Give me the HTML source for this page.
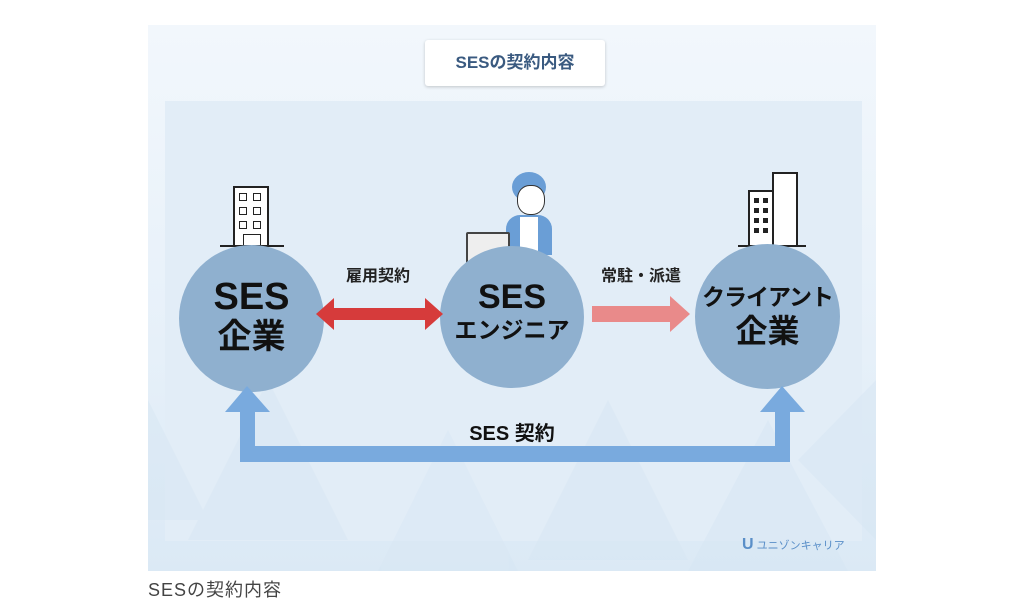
<!DOCTYPE html>
<html><head><meta charset="utf-8"><style>
body{margin:0;width:1024px;height:612px;background:#fff;position:relative;overflow:hidden;font-family:"Liberation Sans","Noto Sans CJK JP",sans-serif}
.a{position:absolute}
.c{position:absolute;border-radius:50%;background:#8fb0cf;text-align:center;font-weight:bold;color:#111;white-space:nowrap}
.w{position:absolute;width:6px;height:6px;border:1.5px solid #222;background:#fff}
.b{position:absolute;width:5px;height:5px;background:#222}
</style></head><body>
<div class="a" style="left:148px;top:25px;width:728px;height:546px;background:linear-gradient(180deg,#f2f7fc 0%,#e6f0f9 60%,#dbe9f5 100%)"></div>
<div class="a" style="left:165px;top:101px;width:697px;height:440px;background:#e2edf7"></div>
<svg class="a" style="left:148px;top:340px" width="728" height="231">
<g fill="#d6e6f3" opacity=".45">
<polygon points="0,60 60,180 -60,180"/><polygon points="120,40 200,200 40,200"/><polygon points="300,90 370,231 230,231"/><polygon points="460,60 540,220 380,220"/><polygon points="620,80 700,231 540,231"/><polygon points="728,40 728,200 650,120"/>
</g></svg>
<div class="a" style="left:425px;top:40px;width:180px;height:46px;background:#fff;border-radius:3px;box-shadow:0 1px 3px rgba(0,0,0,.2);text-align:center;line-height:46px;font-size:17px;font-weight:bold;color:#3a5a80">SESの契約内容</div>
<!-- buildings -->
<div class="a" style="left:233px;top:186px;width:36px;height:60px;border:2px solid #222;border-bottom:none;background:#fff;box-sizing:border-box"></div>
<div class="w" style="left:239px;top:193px"></div><div class="w" style="left:253px;top:193px"></div>
<div class="w" style="left:239px;top:207px"></div><div class="w" style="left:253px;top:207px"></div>
<div class="w" style="left:239px;top:221px"></div><div class="w" style="left:253px;top:221px"></div>
<div class="a" style="left:243px;top:234px;width:16px;height:12px;border:1.5px solid #222;border-bottom:none"></div>
<div class="a" style="left:220px;top:245px;width:64px;height:2px;background:#222"></div>
<div class="a" style="left:748px;top:190px;width:36px;height:57px;border:2px solid #222;border-bottom:none;background:#fff;box-sizing:border-box"></div>
<div class="a" style="left:772px;top:172px;width:26px;height:75px;border:2px solid #222;border-bottom:none;background:#fff;box-sizing:border-box"></div>
<div class="b" style="left:754px;top:198px"></div><div class="b" style="left:763px;top:198px"></div>
<div class="b" style="left:754px;top:208px"></div><div class="b" style="left:763px;top:208px"></div>
<div class="b" style="left:754px;top:218px"></div><div class="b" style="left:763px;top:218px"></div>
<div class="b" style="left:754px;top:228px"></div><div class="b" style="left:763px;top:228px"></div>
<div class="a" style="left:738px;top:245px;width:68px;height:2px;background:#222"></div>
<!-- person -->
<div class="a" style="left:512px;top:172px;width:34px;height:30px;border-radius:50%;background:#6a9ed6"></div>
<div class="a" style="left:517px;top:185px;width:26px;height:28px;border-radius:45%;background:#fff;border:1px solid #333"></div>
<div class="a" style="left:506px;top:215px;width:46px;height:40px;border-radius:14px 14px 0 0;background:#6a9ed6"></div>
<div class="a" style="left:520px;top:217px;width:18px;height:38px;background:#fff"></div>
<div class="a" style="left:466px;top:232px;width:40px;height:28px;background:#eee;border:2px solid #444;border-radius:2px"></div>
<div class="c" style="left:179px;top:245px;width:145px;height:147px"><div style="margin-top:32px;font-size:38px;line-height:40px">SES</div><div style="font-size:34px;line-height:40px">企業</div></div>
<div class="c" style="left:440px;top:246px;width:144px;height:142px"><div style="margin-top:32px;font-size:34px;line-height:38px">SES</div><div style="font-size:23px;line-height:28px">エンジニア</div></div>
<div class="c" style="left:695px;top:244px;width:145px;height:145px"><div style="margin-top:38px;font-size:23px;line-height:30px;letter-spacing:-1px">クライアント</div><div style="font-size:32px;line-height:38px">企業</div></div>
<div class="a" style="left:330px;top:262px;width:96px;text-align:center;font-size:16px;font-weight:bold;color:#222">雇用契約</div>
<div class="a" style="left:588px;top:262px;width:106px;text-align:center;font-size:16px;font-weight:bold;color:#222">常駐・派遣</div>
<svg class="a" style="left:0;top:0" width="1024" height="612">
<polygon points="316,314 334,298 334,308 425,308 425,298 443,314 425,330 425,320 334,320 334,330" fill="#d63b3b"/>
<polygon points="592,306 670,306 670,296 690,314 670,332 670,322 592,322" fill="#e98a8a"/>
<g fill="#79aade">
<rect x="240" y="410" width="15" height="52"/><rect x="775" y="410" width="15" height="52"/>
<rect x="240" y="446" width="550" height="16"/>
<polygon points="247,386 270,412 225,412"/><polygon points="782,386 805,412 760,412"/>
</g>
</svg>
<div class="a" style="left:412px;top:417px;width:200px;text-align:center;font-size:20px;font-weight:bold;color:#111">SES 契約</div>
<div class="a" style="left:742px;top:536px;font-size:11px;color:#5a8fc8"><span style="font-weight:bold;font-size:16px">U</span> ユニゾンキャリア</div>
<div class="a" style="left:148px;top:576px;font-size:18px;color:#444;letter-spacing:1px">SESの契約内容</div>
</body></html>
